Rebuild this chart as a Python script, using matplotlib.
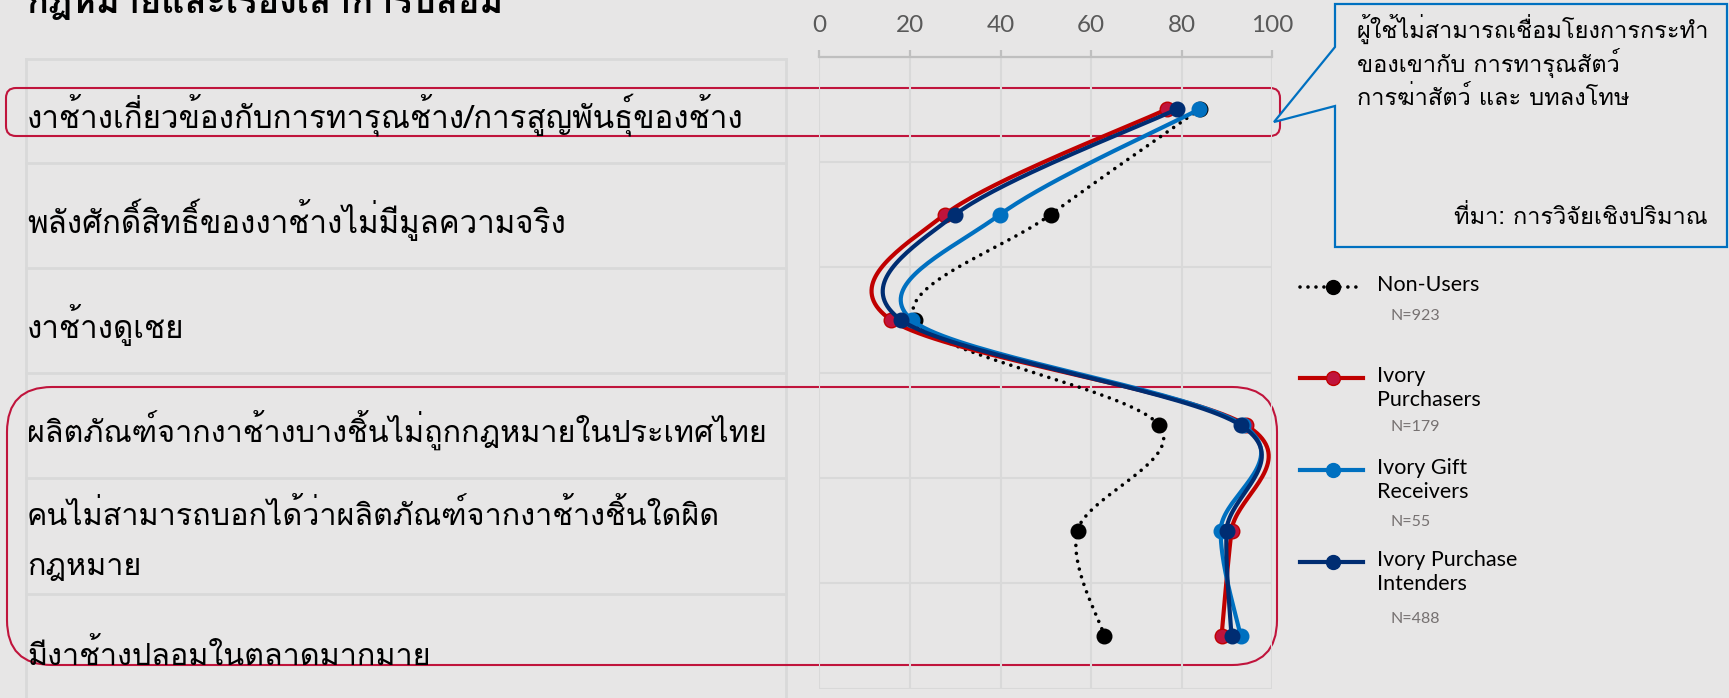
import numpy as np
import matplotlib
matplotlib.use('Agg')
import matplotlib.pyplot as plt
from matplotlib import font_manager
from matplotlib.ft2font import FT2Font
from matplotlib.patches import FancyBboxPatch, Polygon
from matplotlib.lines import Line2D

# ---- data ----
categories = [
    'งาช้างเกี่ยวข้องกับการทารุณช้าง/การสูญพันธุ์ของช้าง',
    'พลังศักดิ์สิทธิ์ของงาช้างไม่มีมูลความจริง',
    'งาช้างดูเชย',
    'ผลิตภัณฑ์จากงาช้างบางชิ้นไม่ถูกกฎหมายในประเทศไทย',
    'คนไม่สามารถบอกได้ว่าผลิตภัณฑ์จากงาช้างชิ้นใดผิด\nกฎหมาย',
    'มีงาช้างปลอมในตลาดมากมาย',
]
non_users = [84.0, 51.1, 21.1, 75.0, 57.0, 62.9]
purchasers = [76.7, 27.7, 15.8, 94.2, 91.0, 88.8]
gift_receivers = [83.9, 39.9, 20.4, 93.5, 88.6, 93.0]
intenders = [78.9, 30.0, 18.0, 93.0, 89.9, 91.0]
series_names = ['Non-Users', 'Ivory\nPurchasers', 'Ivory Gift\nReceivers', 'Ivory Purchase\nIntenders']
sample_sizes = ['N=923', 'N=179', 'N=55', 'N=488']
x_ticks = [0, 20, 40, 60, 80, 100]
title = 'กฎหมายและเรื่องเล่าการปลอม'
callout_lines = ['ผู้ใช้ไม่สามารถเชื่อมโยงการกระทำ', 'ของเขากับ การทารุณสัตว์', 'การฆ่าสัตว์ และ บทลงโทษ']
source = 'ที่มา: การวิจัยเชิงปริมาณ'

# ---- pick a font that has Thai glyphs (Loma if there) ----
thai_fonts = []
for f in font_manager.fontManager.ttflist:
    try:
        if 0x0E01 in FT2Font(f.fname).get_charmap() and f.name not in thai_fonts:
            thai_fonts.append(f.name)
    except Exception:
        pass
if 'Loma' in thai_fonts:
    thai_family = ['Loma', 'DejaVu Sans']
else:
    thai_family = thai_fonts[:1] + ['DejaVu Sans']
latin_family = ['Lato', 'DejaVu Sans']

BG = '#E7E6E6'
RED = '#C00000'
RED_M = '#C0143C'
BLUE = '#0070C0'
NAVY = '#002D72'
GRID = '#D9D9D9'

W, H = 1729, 698
fig = plt.figure(figsize=(W / 100, H / 100), dpi=100, facecolor=BG)

# pixel-space overlay (top-left origin)
bg = fig.add_axes([0, 0, 1, 1], zorder=0)
bg.set_xlim(0, W)
bg.set_ylim(H, 0)
bg.axis('off')

# chart axes
x0, x1, y0, y1 = 819.3, 1272.3, 56.5, 688.5
ax = fig.add_axes([x0 / W, 1 - y1 / H, (x1 - x0) / W, (y1 - y0) / H], zorder=1)
ax.patch.set_visible(False)
n = len(categories)
ax.set_xlim(0, 100)
ax.set_ylim(n - 0.5, -0.5)
for s in ['left', 'right', 'bottom']:
    ax.spines[s].set_visible(False)
ax.spines['top'].set_color('#BFBFBF')
ax.spines['top'].set_linewidth(1.6)
ax.xaxis.tick_top()
ax.set_xticks(x_ticks)
ax.tick_params(axis='x', direction='out', length=5, width=1.6, color='#BFBFBF',
               labelsize=17.5, labelcolor='#595959', pad=10)
for lab in ax.get_xticklabels():
    lab.set_family(latin_family)
ax.set_yticks([])
for v in x_ticks:
    ax.axvline(v, color=GRID, lw=1.5, zorder=0)
for b in np.arange(n + 1) - 0.5:
    ax.axhline(b, color=GRID, lw=1.5, zorder=0)

sx = (x1 - x0) / 100.0
sy = (y1 - y0) / n


def smooth(xv, yv, steps=40):
    # Catmull-Rom style bezier smoothing done in pixel space
    p = np.column_stack([np.asarray(xv) * sx, np.asarray(yv) * sy])
    ext = np.vstack([p[0], p, p[-1]])
    out = []
    for i in range(len(p) - 1):
        a, b, c, d = ext[i], ext[i + 1], ext[i + 2], ext[i + 3]
        c1 = b + (c - a) / 6
        c2 = c - (d - b) / 6
        t = np.linspace(0, 1, steps)[:, None]
        seg = (1 - t) ** 3 * b + 3 * (1 - t) ** 2 * t * c1 + 3 * (1 - t) * t ** 2 * c2 + t ** 3 * c
        out.append(seg if i == 0 else seg[1:])
    pts = np.vstack(out)
    return pts[:, 0] / sx, pts[:, 1] / sy


rows = np.arange(n)
styles = [
    dict(color='black', lw=2.6, ls=(0, (0.01, 2.2)), dash_capstyle='round', mfc='black', mec='black', z=2),
    dict(color=RED, lw=3, ls='-', dash_capstyle='butt', mfc=RED_M, mec=RED, z=3),
    dict(color=BLUE, lw=3, ls='-', dash_capstyle='butt', mfc=BLUE, mec=BLUE, z=4),
    dict(color=NAVY, lw=3, ls='-', dash_capstyle='butt', mfc=NAVY, mec=NAVY, z=5),
]
all_series = [non_users, purchasers, gift_receivers, intenders]
for vals, st in zip(all_series, styles):
    xs, ys = smooth(vals, rows)
    ax.plot(xs, ys, color=st['color'], lw=st['lw'], ls=st['ls'],
            dash_capstyle=st['dash_capstyle'], solid_capstyle='round', zorder=st['z'], clip_on=False)
    ax.plot(vals, rows, ls='none', marker='o', ms=10.5, mfc=st['mfc'], mec=st['mec'],
            zorder=st['z'], clip_on=False)

# ---- left table ----
table_rows = [59, 163, 268, 373, 478, 594]
for yb in table_rows:
    bg.plot([26, 786], [yb, yb], color=GRID, lw=2, zorder=1)
for xb in [26, 786]:
    bg.plot([xb, xb], [59, H], color=GRID, lw=2, zorder=1)
row_edges = table_rows + [H + 10]
label_sizes = [22.5, 22.5, 22.5, 22, 22, 22]
for i, cat in enumerate(categories):
    yc = (row_edges[i] + row_edges[i + 1]) / 2 + 4
    bg.text(27, yc, cat, ha='left', va='center', fontsize=label_sizes[i], color='black',
            family=thai_family, linespacing=2.0, zorder=3)

# red highlight boxes
bg.add_patch(FancyBboxPatch((6, 88), 1274, 48, boxstyle='round,pad=0,rounding_size=10',
                            fc='none', ec=RED_M, lw=1.5, zorder=2))
bg.add_patch(FancyBboxPatch((7, 387), 1270, 278, boxstyle='round,pad=0,rounding_size=45',
                            fc='none', ec=RED_M, lw=1.5, zorder=2))

# title (cut off at the top, as in the source slide)
bg.text(27, 13, title, ha='left', va='baseline', fontsize=26, fontweight='bold',
        family=thai_family, color='black')

# callout
callout = Polygon([(1335, 4), (1727, 4), (1727, 247), (1335, 247), (1335, 106),
                   (1274, 122), (1335, 47)], closed=True, fc=BG, ec=BLUE, lw=1.6, zorder=4)
bg.add_patch(callout)
for i, line in enumerate(callout_lines):
    bg.text(1357, 29 + i * 34.5, line, ha='left', va='center', fontsize=17,
            family=thai_family, color='black', zorder=5)
bg.text(1708, 217, source, ha='right', va='center', fontsize=17,
        family=thai_family, color='black', zorder=5)

# legend
leg_y = [287, 378, 470, 562]
n_y = [316, 427, 522, 619]
for name, nlab, st, ly, ny in zip(series_names, sample_sizes, styles, leg_y, n_y):
    bg.add_line(Line2D([1300, 1363], [ly, ly], color=st['color'], lw=st['lw'], ls=st['ls'],
                       dash_capstyle=st['dash_capstyle'], zorder=5))
    bg.add_line(Line2D([1333], [ly], marker='o', ms=10, mfc=st['mfc'], mec=st['mec'], zorder=6))
    bg.text(1377, ly - 12, name, ha='left', va='top', fontsize=15.5, family=latin_family,
            color='black', linespacing=1.25)
    bg.text(1391, ny, nlab, ha='left', va='center', fontsize=11.5,
            family=latin_family, color='#767171')

fig.savefig('out.png', dpi=100, facecolor=BG)
